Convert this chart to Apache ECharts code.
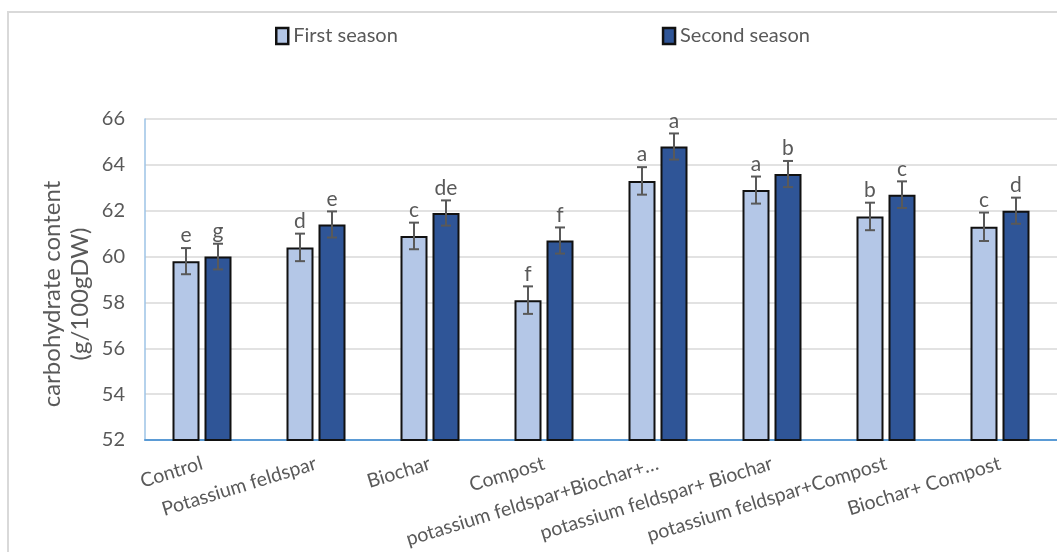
<!DOCTYPE html>
<html>
<head>
<meta charset="utf-8">
<title>Carbohydrate content</title>
<script src="https://cdn.jsdelivr.net/npm/echarts@6/dist/echarts.min.js"></script>
<style>
  html, body { margin: 0; padding: 0; background: #fff; }
  #chart { width: 1057px; height: 552px; }
</style>
</head>
<body>
<div id="chart"></div>
<script>
// Treatments on the x axis
const categories = [
  'Control',
  'Potassium feldspar',
  'Biochar',
  'Compost',
  'potassium feldspar+Biochar+…',
  'potassium feldspar+ Biochar',
  'potassium feldspar+Compost',
  'Biochar+ Compost'
];

// Carbohydrate content (g/100gDW), mean per season
const firstSeason  = [59.8, 60.4, 60.9, 58.1, 63.3, 62.9, 61.75, 61.3];
const secondSeason = [60.0, 61.4, 61.9, 60.7, 64.8, 63.6, 62.7, 62.0];

// Standard error per bar
const firstErr  = [0.57, 0.60, 0.58, 0.60, 0.60, 0.59, 0.60, 0.62];
const secondErr = [0.56, 0.57, 0.55, 0.57, 0.57, 0.57, 0.58, 0.57];

// Significance letters
const firstLetters  = ['e', 'd', 'c', 'f', 'a', 'a', 'b', 'c'];
const secondLetters = ['g', 'e', 'de', 'f', 'a', 'b', 'c', 'd'];

const FONT = 'Lato, "Open Sans", sans-serif';
const TEXT = '#595959';
const BAR_W = 27;
const BAR_GAP = 5;

function errorBars(values, errs, letters, side) {
  return {
    type: 'custom',
    z: 5,
    silent: true,
    data: values.map((v, i) => [i, v, errs[i]]),
    encode: { x: 0, y: 1 },
    renderItem: function (params, api) {
      const i = api.value(0);
      const v = api.value(1);
      const e = api.value(2);
      const dx = side * (BAR_W / 2 + BAR_GAP / 2);
      const hi = api.coord([i, v + e]);
      const lo = api.coord([i, v - e]);
      const x = hi[0] + dx;
      const cap = 5;
      const lineStyle = { stroke: '#595959', lineWidth: 2 };
      return {
        type: 'group',
        children: [
          { type: 'line', shape: { x1: x, y1: hi[1], x2: x, y2: lo[1] }, style: lineStyle },
          { type: 'line', shape: { x1: x - cap, y1: hi[1], x2: x + cap, y2: hi[1] }, style: lineStyle },
          { type: 'line', shape: { x1: x - cap, y1: lo[1], x2: x + cap, y2: lo[1] }, style: lineStyle },
          {
            type: 'text',
            style: {
              text: letters[params.dataIndex],
              x: x,
              y: hi[1] - 2,
              align: 'center',
              verticalAlign: 'bottom',
              fill: TEXT,
              font: '21px ' + FONT
            }
          }
        ]
      };
    }
  };
}

const chart = echarts.init(document.getElementById('chart'), null, { renderer: 'canvas' });

chart.setOption({
  backgroundColor: '#ffffff',
  animation: false,
  graphic: [
    {
      type: 'rect',
      shape: { x: 8, y: 12, width: 1100, height: 600 },
      style: { fill: 'none', stroke: '#d9d9d9', lineWidth: 2 },
      z: -10
    },
    {
      type: 'text',
      x: 66,
      y: 294,
      rotation: Math.PI / 2,
      style: {
        text: 'carbohydrate content\n(g/100gDW)',
        align: 'center',
        verticalAlign: 'middle',
        fill: TEXT,
        font: '24px ' + FONT,
        lineHeight: 28
      }
    }
  ],
  legend: {
    left: 270,
    top: 21,
    itemWidth: 12,
    itemHeight: 16,
    itemGap: 264,
    icon: 'rect',
    itemStyle: { borderColor: '#111111', borderWidth: 2.5 },
    textStyle: { color: TEXT, fontFamily: FONT, fontSize: 20 },
    data: ['First season', 'Second season']
  },
  grid: { left: 145, right: -13, top: 119, bottom: 112, containLabel: false },
  xAxis: {
    type: 'category',
    data: categories,
    axisLine: { show: true, lineStyle: { color: '#5b9bd5', width: 2 } },
    axisTick: { show: false },
    axisLabel: {
      interval: 0,
      rotate: 17,
      margin: 23,
      color: TEXT,
      fontFamily: FONT,
      fontSize: 19.5
    }
  },
  yAxis: {
    type: 'value',
    min: 52,
    max: 66,
    interval: 2,
    axisLine: { show: true, lineStyle: { color: '#9dc3e6', width: 1.5 } },
    axisTick: { show: false },
    splitLine: { show: true, lineStyle: { color: '#d9d9d9', width: 1.5 } },
    axisLabel: { margin: 20, color: TEXT, fontFamily: FONT, fontSize: 20 }
  },
  series: [
    {
      name: 'First season',
      type: 'bar',
      data: firstSeason,
      barWidth: BAR_W,
      barGap: (BAR_GAP / BAR_W * 100) + '%',
      itemStyle: { color: '#b4c7e7', borderColor: '#111111', borderWidth: 2 }
    },
    {
      name: 'Second season',
      type: 'bar',
      data: secondSeason,
      barWidth: BAR_W,
      barGap: (BAR_GAP / BAR_W * 100) + '%',
      itemStyle: { color: '#2f5597', borderColor: '#111111', borderWidth: 2 }
    },
    errorBars(firstSeason, firstErr, firstLetters, -1),
    errorBars(secondSeason, secondErr, secondLetters, 1)
  ]
});
</script>
</body>
</html>
